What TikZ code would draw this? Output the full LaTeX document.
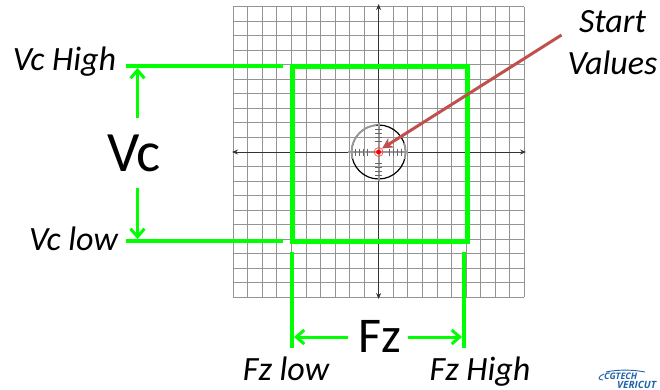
\documentclass[tikz,border=0pt]{standalone}
\usepackage{fontspec}
\setmainfont{Carlito}
\newfontfamily\logofont{Open Sans}
\usetikzlibrary{arrows.meta}
\definecolor{grn}{RGB}{0,255,0}
\definecolor{startred}{RGB}{192,80,77}
\definecolor{logoblue}{RGB}{30,100,170}
\tikzset{x=1pt,y=-1pt,
 gridline/.style={draw=black!42,line width=1pt},
 axisline/.style={draw=black!80,line width=0.9pt,-{Stealth[length=6pt,width=5pt]}},
 hair/.style={draw=grn,line width=3.8pt},
 frame/.style={draw=grn,line width=5pt},
 dimarrow/.style={draw=grn,line width=3pt,-{Straight Barb[length=8pt,width=14pt,line width=3pt]}},
 lbl/.style={font=\fontsize{34}{42}\selectfont\itshape,text=black,inner sep=0pt,align=center},
 bigv/.style={font=\fontsize{57}{60}\selectfont,text=black,inner sep=0pt},
 bigf/.style={font=\fontsize{50}{52}\selectfont,text=black,inner sep=0pt},
 sight/.style={draw=black!40,line width=1.8pt},
 sighttick/.style={draw=black!60,line width=0.7pt},
 logotext/.style={inner sep=0pt,text=logoblue,anchor=base west}}
\begin{document}
\begin{tikzpicture}
\useasboundingbox (0,0) rectangle (660,389);
% grid
\foreach \i in {0,...,20}{
  \draw[gridline] ({233.3+14.55*\i},6.7) -- ({233.3+14.55*\i},297.3);
  \draw[gridline] (233.3,{6.7+14.53*\i}) -- (524.3,{6.7+14.53*\i});
}
\coordinate (c) at (378.6,152);
\draw[axisline] (c) -- (378.6,4);
\draw[axisline] (c) -- (378.6,299);
\draw[axisline] (c) -- (232,152);
\draw[axisline] (c) -- (526,152);
% sight
\draw[draw=black,line width=1.2pt] (c) circle (27);
\draw[sight] (c) ++(-95:27) arc (-95:-178:27);
\draw[sight] (c) ++(-20:27) arc (-20:15:27);
\draw[sight] (c) ++(178:27) arc (178:165:27);
\draw[sight] (348,152) -- (408,152);
\draw[sight] (378.6,122.5) -- (378.6,180.5);
\foreach \d in {11,15,19,23}{
  \draw[sighttick] ({378.6+\d},148.5) -- ({378.6+\d},155.5);
  \draw[sighttick] ({378.6-\d},148.5) -- ({378.6-\d},155.5);
  \draw[sighttick] (375,{152+\d}) -- (382,{152+\d});
  \draw[sighttick] (375,{152-\d}) -- (382,{152-\d});
}
\draw[red!70,line width=0.7pt] (c) circle (4.5);
\fill[red] (c) circle (2.5);
% box
\coordinate (tl) at (292,66);
\coordinate (br) at (467,241);
\draw[frame] (tl) rectangle (br);
% labels
\node[lbl,anchor=base] (vch) at (64.5,70) {Vc High};
\node[lbl,anchor=base] (vcl) at (73.5,250) {Vc low};
\node[bigv,anchor=base] (vc) at (134,171) {Vc};
\node[bigf,anchor=base] (fz) at (379.5,352) {Fz};
\node[lbl,anchor=base] (fzl) at (286,380) {Fz low};
\node[lbl,anchor=base] (fzh) at (480,380) {Fz High};
\node[lbl] (sv) at (612.5,43) {Start\\Values};
% extension lines
\coordinate (a1) at (126,66); \coordinate (a2) at (283,66);
\coordinate (b1) at (126,241); \coordinate (b2) at (283,241);
\coordinate (d1) at (292,252); \coordinate (d2) at (292,348);
\coordinate (e1) at (464,252); \coordinate (e2) at (464,348);
\draw[hair] (a1) -- (a2);
\draw[hair] (b1) -- (b2);
\draw[hair] (d1) -- (d2);
\draw[hair] (e1) -- (e2);
% dimensions
\coordinate (vu) at (137.5,118); \coordinate (vut) at (137.5,68);
\coordinate (vd) at (137.5,188); \coordinate (vdt) at (137.5,239);
\coordinate (fl) at (348,337); \coordinate (flt) at (294,337);
\coordinate (fr) at (408,337); \coordinate (frt) at (462,337);
\draw[dimarrow] (vu) -- (vut);
\draw[dimarrow] (vd) -- (vdt);
\draw[dimarrow] (fl) -- (flt);
\draw[dimarrow] (fr) -- (frt);
% start arrow
\coordinate (s0) at (561.5,35);
\coordinate (s1) at (382,148.5);
\draw[draw=startred,line width=3pt,-{Stealth[length=11pt,width=11pt]}] (s0) -- (s1);
% logo
\node[logotext,font=\logofont\fontsize{9}{9}\selectfont\bfseries\itshape] (l1) at (604,379) {CGTECH};
\node[logotext,font=\logofont\fontsize{10}{10}\selectfont\bfseries\itshape] (l2) at (617,388) {VERICUT};
\draw[logoblue,line width=0.9pt] (606,372) .. controls (620,369) and (635,370) .. (645,372);
\draw[logoblue,line width=0.9pt] (604,374) .. controls (597,377) and (598,380) .. (603,380);
\end{tikzpicture}
\end{document}
